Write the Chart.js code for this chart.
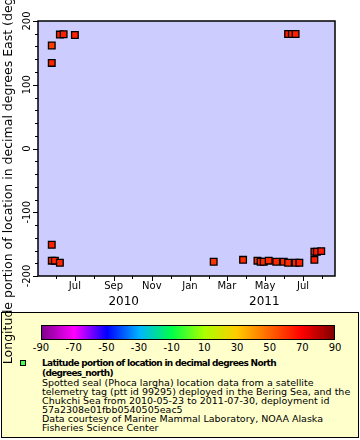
<!DOCTYPE html>
<html><head><meta charset="utf-8">
<script src="https://cdn.jsdelivr.net/npm/chart.js@4/dist/chart.umd.min.js"></script>
<style>
html,body{margin:0;padding:0;background:#fff;}
#wrap{position:relative;width:360px;height:440px;overflow:hidden;font-family:"DejaVu Sans",sans-serif;color:#000;}
#legend{position:absolute;left:1px;top:312px;width:358px;height:126px;box-sizing:border-box;background:#ffffcc;border:1px solid #000;}
#cbar{position:absolute;left:41px;top:325px;width:294px;height:15px;box-sizing:border-box;border:1px solid #000;}
.cbl{position:absolute;top:342px;font-size:10px;line-height:12px;transform:translateX(-50%);white-space:nowrap;}
#lmark{position:absolute;left:20px;top:360px;width:6px;height:6px;box-sizing:border-box;border:1px solid #000;background:#44ff44;}
#ltext{position:absolute;left:42px;top:358px;font-size:9.5px;line-height:9px;white-space:nowrap;}
#ltext b{font-weight:bold;font-size:9px;letter-spacing:-0.7px;}
canvas{position:absolute;left:0;top:0;}
</style>
</head><body>
<div id="wrap">
  <div id="legend"></div>
  <div id="cbar"></div>
  <div id="cblabels"></div>
  <div id="lmark"></div>
  <div id="ltext"><b>Latitude portion of location in decimal degrees North</b><br><b>(degrees_north)</b><br>Spotted seal (Phoca largha) location data from a satellite<br>telemetry tag (ptt id 99295) deployed in the Bering Sea, and the<br>Chukchi Sea from 2010-05-23 to 2011-07-30, deployment id<br>57a2308e01fbb0540505eac5<br>Data courtesy of Marine Mammal Laboratory, NOAA Alaska<br>Fisheries Science Center</div>
  <canvas id="c" width="360" height="440"></canvas>
</div>
<script>
// ---- data ----
const pointDates = ['2010-05-25','2010-05-25','2010-05-25','2010-05-25','2010-05-30','2010-06-07','2010-06-07','2010-06-13','2010-07-01',
  '2011-02-08','2011-03-27','2011-04-19','2011-04-24','2011-04-29','2011-05-07','2011-05-19','2011-05-31','2011-06-07',
  '2011-06-07','2011-06-13','2011-06-19','2011-06-19','2011-06-25','2011-07-19','2011-07-19','2011-07-23','2011-07-30'];
const longitudes = [161.5,134.2,-151,-176,-176,178.7,-179.2,179.2,178.1,
  -177.6,-174.6,-176,-177.6,-177.6,-176,-177.6,-177.6,-179.2,
  179.6,179.6,179.6,-179.2,-179.2,-174.6,-162,-162,-161];
const latitudes = [58,63,64,64,63,64,63,64,63,
  60,61,61,62,62,61,62,62,62,
  64,64,64,63,64,64,65,65,65];

const xMinDate = '2010-05-03', xMaxDate = '2011-08-21';
const monthTickDates = ['2010-06-01','2010-07-01','2010-08-01','2010-09-01','2010-10-01','2010-11-01','2010-12-01',
  '2011-01-01','2011-02-01','2011-03-01','2011-04-01','2011-05-01','2011-06-01','2011-07-01','2011-08-01'];
const monthTickLabels = ['','Jul','','Sep','','Nov','','Jan','','Mar','','May','','Jul',''];
const yearLabelDates = ['2010-09-17','2011-04-30'];
const yearLabels = ['2010','2011'];
const yMajorTicks = [-200,-100,0,100,200];
const yMinorTicks = [-180,-160,-140,-120,-80,-60,-40,-20,20,40,60,80,120,140,160,180];
const colorBarTicks = [-90,-70,-50,-30,-10,10,30,50,70,90];
const colorStops = [[-90,'#800090'],[-70,'#ff00ff'],[-50,'#0000ff'],[-30,'#00b4ff'],[-10,'#00ff48'],[10,'#aaff00'],[30,'#ffcc00'],[50,'#ff6600'],[70,'#ff0000'],[90,'#800000']];

const ms = s => new Date(s + 'T00:00:00Z').getTime();
function hex2rgb(h){return [1,3,5].map(i=>parseInt(h.substr(i,2),16));}
function colorFor(v){
  for(let i=0;i<colorStops.length-1;i++){
    const [a,ca]=colorStops[i],[b,cb]=colorStops[i+1];
    if(v>=a && v<=b){
      const t=(v-a)/(b-a), A=hex2rgb(ca), B=hex2rgb(cb);
      return 'rgb('+A.map((x,k)=>Math.round(x+(B[k]-x)*t)).join(',')+')';
    }
  }
  return colorStops[colorStops.length-1][1];
}

// colour bar
const cbMin = colorBarTicks[0], cbMax = colorBarTicks[colorBarTicks.length-1];
document.getElementById('cbar').style.background = 'linear-gradient(to right,' +
  colorStops.map(s => s[1] + ' ' + ((s[0]-cbMin)/(cbMax-cbMin)*100) + '%').join(',') + ')';
const cbl = document.getElementById('cblabels');
colorBarTicks.forEach(v => {
  const el = document.createElement('div');
  el.className = 'cbl';
  el.style.left = (41 + (v-cbMin)/(cbMax-cbMin)*294) + 'px';
  el.textContent = String(v);
  cbl.appendChild(el);
});

const FONT = '"DejaVu Sans", sans-serif';
const erddapPlugin = {
  id: 'erddap',
  beforeDraw(chart){
    const {ctx, chartArea:a} = chart;
    ctx.save();
    ctx.fillStyle = '#ccccff';
    ctx.fillRect(a.left, a.top, a.right-a.left, a.bottom-a.top);
    ctx.restore();
  },
  afterDraw(chart){
    const {ctx, chartArea:a, scales:{x, y}} = chart;
    ctx.save();
    ctx.strokeStyle = '#000';
    ctx.lineWidth = 1.5;
    ctx.strokeRect(a.left, a.top, a.right-a.left, a.bottom-a.top);
    ctx.lineWidth = 1;
    ctx.fillStyle = '#000';
    ctx.beginPath();
    yMajorTicks.forEach(v => { const p = Math.round(y.getPixelForValue(v))+0.5; ctx.moveTo(a.left-5, p); ctx.lineTo(a.left, p); });
    yMinorTicks.forEach(v => { const p = Math.round(y.getPixelForValue(v))+0.5; ctx.moveTo(a.left-3, p); ctx.lineTo(a.left, p); });
    monthTickDates.forEach((d,i) => {
      const p = Math.round(x.getPixelForValue(ms(d)))+0.5;
      const len = monthTickLabels[i] ? 5 : 3;
      ctx.moveTo(p, a.bottom); ctx.lineTo(p, a.bottom+len);
    });
    ctx.stroke();
    ctx.font = '10px ' + FONT;
    ctx.textAlign = 'center'; ctx.textBaseline = 'middle';
    yMajorTicks.forEach(v => {
      ctx.save();
      ctx.translate(27, y.getPixelForValue(v));
      ctx.rotate(-Math.PI/2);
      ctx.fillText(String(v), 0, 0);
      ctx.restore();
    });
    monthTickDates.forEach((d,i) => {
      if (monthTickLabels[i]) ctx.fillText(monthTickLabels[i], x.getPixelForValue(ms(d)), 286.5);
    });
    ctx.font = '12px ' + FONT;
    yearLabelDates.forEach((d,i) => ctx.fillText(yearLabels[i], x.getPixelForValue(ms(d)), 302));
    ctx.restore();
  }
};

new Chart(document.getElementById('c'), {
  type: 'scatter',
  data: {
    datasets: [{
      data: pointDates.map((d,i) => ({x: ms(d), y: longitudes[i]})),
      backgroundColor: latitudes.map(colorFor),
      borderColor: '#000',
      borderWidth: 1.3,
      pointStyle: 'rect',
      pointRadius: 4.7,
      pointHoverRadius: 4.7
    }]
  },
  options: {
    responsive: false,
    animation: false,
    devicePixelRatio: 1,
    layout: {padding: {top: 21, right: 25, bottom: 124, left: 0}},
    plugins: {legend: {display: false}, tooltip: {enabled: false}},
    events: [],
    scales: {
      x: {
        type: 'linear', min: ms(xMinDate), max: ms(xMaxDate),
        ticks: {display: false}, grid: {display: false}, border: {display: false},
        afterFit(s){ s.height = 40; }
      },
      y: {
        type: 'linear', min: -200, max: 200,
        ticks: {display: false}, grid: {display: false}, border: {display: false},
        title: {display: true, text: 'Longitude portion of location in decimal degrees East (degrees_east)',
          color: '#000', font: {family: FONT, size: 12.5}, padding: {top: 1.5, bottom: 0}},
        afterFit(s){ s.width = 38; }
      }
    }
  },
  plugins: [erddapPlugin]
});
</script>
</body></html>
